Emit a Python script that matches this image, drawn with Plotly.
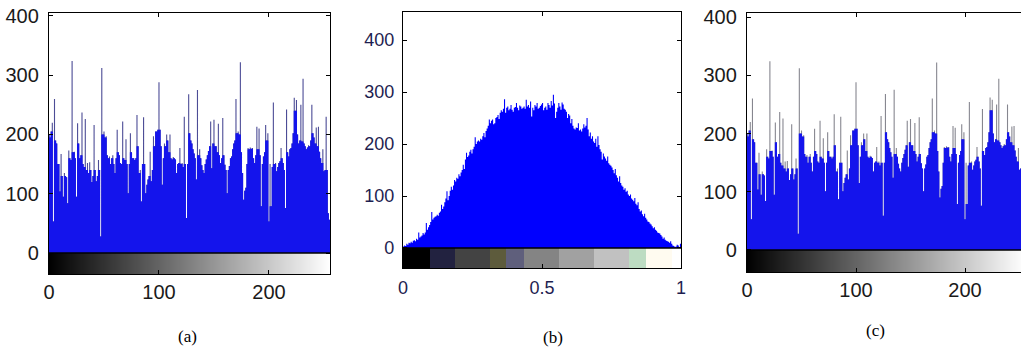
import plotly.graph_objects as go

W, H = 1021, 347

# ---------------- data ----------------
bins_ac = list(range(256))          # gray levels (panels a and c)
counts_a = [
    200, 195, 205, 220, 53, 260, 190, 185, 150, 150, 104, 167, 130, 95, 135, 130,
    128, 84, 173, 160, 157, 324, 170, 171, 160, 95, 219, 185, 160, 165, 237, 150,
    145, 226, 140, 152, 135, 153, 140, 120, 130, 216, 140, 121, 130, 157, 140, 28,
    312, 200, 205, 195, 197, 165, 160, 163, 150, 160, 165, 150, 135, 160, 208, 170,
    165, 152, 150, 222, 160, 157, 192, 150, 101, 150, 202, 170, 160, 160, 157, 160,
    233, 180, 135, 140, 87, 150, 229, 150, 101, 115, 124, 130, 171, 121, 140, 197,
    180, 205, 205, 208, 288, 208, 180, 115, 160, 185, 180, 200, 190, 170, 200, 160,
    158, 162, 160, 158, 135, 150, 152, 177, 150, 152, 145, 230, 150, 59, 150, 268,
    202, 190, 185, 175, 168, 160, 124, 275, 165, 175, 160, 148, 140, 135, 150, 158,
    165, 172, 180, 222, 143, 185, 225, 180, 180, 170, 218, 165, 152, 160, 228, 165,
    149, 140, 101, 140, 147, 160, 163, 175, 185, 190, 260, 202, 205, 200, 322, 170,
    135, 90, 105, 110, 150, 177, 175, 178, 176, 177, 160, 152, 165, 213, 175, 210,
    165, 79, 150, 163, 170, 216, 190, 202, 53, 150, 79, 145, 254, 150, 152, 138,
    145, 152, 155, 177, 160, 152, 140, 76, 242, 170, 163, 175, 177, 185, 202, 262,
    240, 258, 200, 185, 190, 250, 188, 294, 185, 180, 175, 178, 182, 180, 190, 250,
    202, 195, 185, 212, 180, 213, 171, 160, 152, 175, 138, 140, 230, 140, 67, 56,
]
counts_c = list(counts_a)           # panel (c) shows the same histogram
gray_levels = list(range(256))

nbins_b = 256
counts_b = [
    3, 5, 4, 8, 6, 10, 9, 12, 10, 14, 15, 13, 18, 16, 30, 20,
    22, 24, 29, 26, 30, 48, 35, 40, 44, 50, 69, 55, 58, 60, 61, 64,
    62, 68, 70, 83, 75, 80, 88, 95, 109, 92, 100, 110, 118, 112, 120, 131,
    128, 135, 133, 142, 138, 145, 150, 160, 152, 170, 183, 175, 178, 185, 189, 182,
    190, 195, 213, 200, 205, 207, 205, 210, 208, 215, 221, 213, 225, 230, 235, 247,
    240, 245, 247, 238, 240, 250, 252, 256, 248, 260, 265, 262, 268, 286, 260, 270,
    272, 265, 268, 275, 266, 262, 270, 271, 279, 270, 265, 274, 272, 268, 270, 272,
    268, 285, 272, 275, 270, 282, 253, 270, 265, 275, 272, 279, 268, 270, 273, 276,
    279, 265, 270, 272, 266, 279, 275, 270, 283, 274, 295, 278, 250, 262, 270, 279,
    272, 266, 280, 276, 268, 266, 262, 250, 258, 255, 240, 248, 235, 230, 228, 232,
    231, 240, 226, 228, 224, 230, 238, 232, 235, 250, 228, 215, 222, 210, 215, 205,
    202, 210, 195, 215, 198, 190, 185, 170, 182, 176, 172, 168, 176, 163, 160, 158,
    155, 150, 144, 152, 140, 135, 128, 138, 125, 120, 118, 112, 115, 108, 110, 103,
    100, 103, 95, 93, 90, 96, 85, 82, 88, 75, 70, 72, 65, 61, 66, 58,
    55, 51, 50, 47, 45, 42, 38, 40, 35, 33, 30, 29, 28, 25, 22, 18,
    20, 16, 14, 13, 12, 10, 13, 8, 5, 4, 2, 3, 6, 5, 2, 8,
]
cmap_b_edges = [0, 0.096, 0.186, 0.312, 0.372, 0.436, 0.562, 0.686, 0.813, 0.875, 0.968, 1.0]
cmap_b_colors = ['#000000', '#222240', '#434343', '#5d5b3c', '#5f5f7c', '#848484',
                 '#a1a1a1', '#c1c1c1', '#bddcc2', '#fffbf0', '#ffffff']

panel_labels = ['(a)', '(b)', '(c)']
xticks_ac = [0, 100, 200]
xticks_b = [0, 0.5, 1]
xtick_text_b = ['0', '0.5', '1']
yticks = [0, 100, 200, 300, 400]

# ---------------- helpers ----------------
def body_of(vals):
    """part of each bar not sticking out above both neighbours"""
    out = []
    n = len(vals)
    for i, v in enumerate(vals):
        left = vals[i - 1] if i > 0 else v
        right = vals[i + 1] if i < n - 1 else v
        out.append(min(v, max(left, right)))
    return out


def step_trace(edges, vals, color, xa, ya):
    return go.Scatter(
        x=edges, y=list(vals) + [vals[-1]], mode='lines', line=dict(width=0, shape='hv'),
        fill='tozeroy', fillcolor=color, xaxis=xa, yaxis=ya, hoverinfo='skip', showlegend=False)


def px_x(p):
    return p / W


def px_y(p):
    return 1 - p / H

# pixel geometry of each panel frame
frames = {
    'a': dict(l=49, r=330, t=13, b=274),
    'b': dict(l=403, r=681, t=12, b=268),
    'c': dict(l=747, r=1021, t=13, b=272),
}
yr_a = [-35.4, 405]
yr_b = [-38.5, 454]
yr_c = [-37.8, 407]
xr_a = [0, 255.5]
xr_b = [0, 1]
xr_c = [0, (1021 - 747) / 1.09]

fig = go.Figure()

edges_ac = [b - 0.5 for b in bins_ac] + [bins_ac[-1] + 0.5]
edges_b = [j / nbins_b for j in range(nbins_b + 1)]

# panel a
fig.add_trace(go.Heatmap(z=[gray_levels], x=edges_ac, y=[yr_a[0], 0], zmin=0, zmax=255,
                         colorscale=[[0, '#000000'], [1, '#ffffff']], showscale=False,
                         xaxis='x', yaxis='y', hoverinfo='skip'))
fig.add_trace(step_trace(edges_ac, counts_a, '#4c4c96', 'x', 'y'))
fig.add_trace(step_trace(edges_ac, body_of(counts_a), '#1414ec', 'x', 'y'))

# panel b
n_blocks = len(cmap_b_colors)
cs_b = [[k / (n_blocks - 1), c] for k, c in enumerate(cmap_b_colors)]
fig.add_trace(go.Heatmap(z=[list(range(n_blocks))], x=cmap_b_edges, y=[yr_b[0], 0],
                         zmin=0, zmax=n_blocks - 1, colorscale=cs_b, showscale=False,
                         xaxis='x2', yaxis='y2', hoverinfo='skip'))
fig.add_trace(step_trace(edges_b, counts_b, '#0000ff', 'x2', 'y2'))

# panel c
fig.add_trace(go.Heatmap(z=[gray_levels], x=edges_ac, y=[yr_c[0], 0], zmin=0, zmax=255,
                         colorscale=[[0, '#000000'], [1, '#ffffff']], showscale=False,
                         xaxis='x3', yaxis='y3', hoverinfo='skip'))
fig.add_trace(step_trace(edges_ac, counts_c, '#86868f', 'x3', 'y3'))
fig.add_trace(step_trace(edges_ac, body_of(counts_c), '#1414ec', 'x3', 'y3'))

font_ac = dict(family='Liberation Sans, Arial, sans-serif', size=20, color='#1a1a1a')
font_b = dict(family='Liberation Sans, Arial, sans-serif', size=18, color='#1e1e50')

def xaxis(fr, rng, tickvals, ticktext, font, standoff):
    return dict(domain=[px_x(fr['l']), px_x(fr['r'])], range=rng, tickvals=tickvals, ticktext=ticktext,
                ticks='inside', ticklen=4, tickcolor='black', showline=True, linecolor='black',
                linewidth=1.2, mirror='ticks', showgrid=False, zeroline=False, automargin=False,
                tickfont=font, ticklabelstandoff=standoff, fixedrange=True)

def yaxis(fr, rng, font, standoff, mirror=True):
    return dict(domain=[px_y(fr['b']), px_y(fr['t'])], range=rng, tickvals=yticks,
                ticks='inside', ticklen=4, tickcolor='black', showline=True, linecolor='black',
                linewidth=1.2, mirror='ticks' if mirror else False, showgrid=False, zeroline=False,
                automargin=False, tickfont=font, ticklabelstandoff=standoff, fixedrange=True)

fa, fb, fc = frames['a'], frames['b'], frames['c']
fig.update_layout(
    width=W, height=H, margin=dict(l=0, r=0, t=0, b=0, pad=0, autoexpand=False),
    paper_bgcolor='white', plot_bgcolor='white', showlegend=False,
    xaxis=dict(**xaxis(fa, xr_a, xticks_ac, [str(v) for v in xticks_ac], font_ac, 0), anchor='y'),
    yaxis=dict(**yaxis(fa, yr_a, font_ac, 5), anchor='x'),
    xaxis2=dict(**xaxis(fb, xr_b, xticks_b, xtick_text_b, font_b, 3), anchor='y2'),
    yaxis2=dict(**yaxis(fb, yr_b, font_b, 4), anchor='x2'),
    xaxis3=dict(**xaxis(fc, xr_c, xticks_ac, [str(v) for v in xticks_ac], font_ac, 0), anchor='y3'),
    yaxis3=dict(**yaxis(fc, yr_c, font_ac, 5, mirror=False), anchor='x3'),
)

for xa, ya in [('x', 'y'), ('x2', 'y2'), ('x3', 'y3')]:
    fig.add_shape(type='line', xref=xa + ' domain', x0=0, x1=1, yref=ya, y0=0, y1=0,
                  line=dict(color='black', width=1.5))

label_pos = [(187, 336), (553, 337), (875, 330)]
for txt, (lx, ly) in zip(panel_labels, label_pos):
    fig.add_annotation(text=txt, xref='paper', yref='paper', x=px_x(lx), y=px_y(ly),
                       showarrow=False, xanchor='center', yanchor='middle',
                       font=dict(family='Liberation Serif, Times New Roman, serif', size=17, color='black'))

fig.write_html('out.html', config={'displayModeBar': False, 'staticPlot': True},
               post_script="document.body.style.margin='0';document.body.style.overflow='hidden';")
